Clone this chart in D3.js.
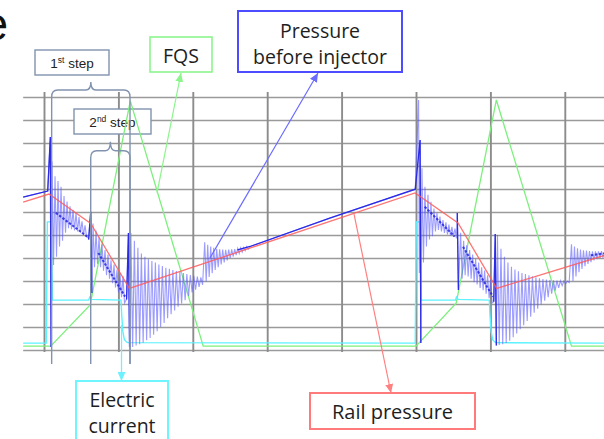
<!DOCTYPE html>
<html><head><meta charset="utf-8">
<script src="https://cdn.jsdelivr.net/npm/d3@7"></script>
<style>body{margin:0;background:#fff}svg{display:block}</style>
</head><body>
<svg id="c" width="604" height="439"></svg>
<script>
// ---- data: time in ms (1 grid division = 1 ms), level in grid divisions ----
const timeTicks = [0, 1, 2, 3, 4, 5, 6, 7];
const levelTicks = [0, 1, 2, 3, 4, 5, 6, 7, 8, 9, 10, 11];
const timeRange = [-0.28, 7.53];

const fqs = [[-0.28,0.17],[0.09,0.17],[0.62,1.96],[1.16,10.83],[2.14,0.17],[5.0,0.17],[5.54,2.04],[6.08,10.87],[7.09,0.17],[7.53,0.17]];

const current = [[-0.28,0.30],[0.03,0.30],[0.045,5.57],[0.095,5.57],[0.115,2.17],[0.60,2.17],[0.615,2.30],[0.64,2.20],[1.035,2.17],[1.045,1.5],[1.06,0.8],[1.08,0.45],[1.12,0.32],
  [4.99,0.30],[5.003,5.57],[5.05,5.57],[5.065,2.17],[5.53,2.17],[5.545,2.30],[5.565,2.20],[5.985,2.17],[5.995,1.5],[6.01,0.8],[6.03,0.45],[6.07,0.32],[7.53,0.30]];

const railPressure = [[-0.28,6.43],[0.067,6.78],[0.628,5.50],[1.147,2.68],[4.987,6.83],[5.565,5.52],[6.085,2.68],[7.53,4.11]];

// pressure before injector: quiet stretches / injection spikes ...
const pLead    = [[-0.28,6.65],[0.05,6.91],[0.085,9.26],[0.095,0.13]];
const pSpike2  = [[0.60,4.85],[0.628,6.01],[0.643,2.48]];
const pSpike3  = [[1.11,2.2],[1.135,5.09],[1.15,0.13]];
const pPlateau = [[2.77,4.50],[3.84,5.73],[4.99,6.99]];
const pSpike5  = [[5.035,10.87],[5.045,3.35],[5.055,9.13],[5.065,0.3]];
const pSpike6  = [[5.555,5.96],[5.57,2.61]];
const pSpike7  = [[6.045,2.1],[6.065,5.04],[6.08,0.2]];
const pTail    = [[7.53,4.15]];
// ... and ringing bursts: [crest, trough] of each cycle
const ring1 = [[8.2,3.7],[7.55,4.05],[7.35,4.5],[7.1,4.75],[6.7,5.1],[6.45,5.3],[6.25,5.25],[6.1,5.2],[5.95,5.15],[5.78,5.1],[5.6,5.0],[5.42,4.95]];
const ring2 = [[5.5,3.6],[5.2,3.75],[4.9,3.6],[4.6,3.45],[4.35,3.25],[4.15,3.1],[3.9,2.9],[3.72,2.72],[3.5,2.5],[3.35,2.3],[3.2,2.05]];
const ring3 = [[5.09,0.13],[4.75,0.2],[4.45,0.25],[4.2,0.32],[4.05,0.42],[3.95,0.52],[3.87,0.66],[3.8,0.82],[3.72,1.0],[3.65,1.18],[3.58,1.38],[3.53,1.55],[3.48,1.72],[3.43,1.88],[3.39,2.02],[3.35,2.17],[3.3,2.35],[3.26,2.5],[3.22,2.62],[3.19,2.74],[3.16,2.83]];
const ring4 = [[4.68,2.98],[4.57,3.17],[4.5,3.34],[4.44,3.48],[4.4,3.6],[4.38,3.72],[4.37,3.81],[4.36,3.9],[4.37,3.99],[4.38,4.06],[4.39,4.13],[4.42,4.2],[4.44,4.26],[4.46,4.32],[4.5,4.38]];
const ring5 = [[7.9,3.8],[7.1,4.5],[6.75,4.8],[6.45,4.95],[6.15,5.15],[5.95,5.22],[5.8,5.15],[5.65,5.09],[5.55,5.03],[5.45,4.98],[5.36,4.93],[5.28,4.85]];
const ring6 = [[5.1,3.1],[4.75,3.25],[4.55,3.2],[4.35,3.1],[4.15,2.95],[3.95,2.85],[3.8,2.7],[3.6,2.6],[3.45,2.45],[3.25,2.25],[3.05,2.05]];
const ring7 = [[5.0,0.22],[4.4,0.25],[4.05,0.3],[3.8,0.4],[3.62,0.55],[3.5,0.72],[3.42,0.9],[3.35,1.08],[3.3,1.26],[3.25,1.45],[3.2,1.62],[3.16,1.8],[3.12,1.98],[3.09,2.14],[3.06,2.3],[3.04,2.45],[3.03,2.58],[3.02,2.7],[3.01,2.8],[3.0,2.88],[3.0,2.93]];
const ring8 = [[4.6,3.0],[4.5,3.2],[4.42,3.38],[4.37,3.52],[4.34,3.64],[4.32,3.74],[4.3,3.82],[4.29,3.89],[4.29,3.95],[4.29,4.0],[4.3,4.04]];
const ringStart = [0.108, 0.659, 1.168, 2.16, 5.08, 5.60, 6.095, 7.09];
const ringPeriod = [0.0403, 0.0403, 0.047, 0.0403, 0.0403, 0.0403, 0.047, 0.0403];
// dense (dark) centre of the trace: solid stretches and ringing centres
const pSolid = [
  [[-0.28,6.65],[0.05,6.91],[0.085,9.26],[0.095,0.13]],
  [[0.60,4.8],[0.628,6.01],[0.643,2.48]],
  [[1.11,2.2],[1.135,5.09],[1.15,0.13]],
  [[2.6,4.35],[2.77,4.50],[3.84,5.73],[4.99,6.99],[5.055,9.13],[5.065,0.3]],
  [[5.555,5.96],[5.57,2.61]],
  [[6.045,2.1],[6.065,5.04],[6.08,0.2]]
];
const pCentre = [
  [[0.16,5.96],[0.58,4.93]],
  [[0.73,4.22],[1.09,2.32]],
  [[5.117,6.23],[5.52,4.93]],
  [[5.632,4.49],[6.035,2.32]],
  [[7.35,4.12],[7.53,4.2]]
];
const stepMarks = [0.103, 0.628, 1.156];

// ---- drawing ----
const svg = d3.select('#c');
const X = d3.scaleLinear().domain([0, 7]).range([44, 564.8]);
const Y = d3.scaleLinear().domain([0, 11]).range([350, 97]);
const line = d3.line().x(d => X(d[0])).y(d => Y(d[1]));

function ringPts(peaks, t0, per) {
  const out = [];
  peaks.forEach((p, k) => { out.push([t0 + k*per, p[0]]); out.push([t0 + (k+0.5)*per, p[1]]); });
  return out;
}
const rings = [ring1, ring2, ring3, ring4, ring5, ring6, ring7, ring8].map((r, i) => ringPts(r, ringStart[i], ringPeriod[i]));
const pressure = [].concat(pLead, rings[0], pSpike2, rings[1], pSpike3, rings[2], rings[3], pPlateau,
  pSpike5, rings[4], pSpike6, rings[5], pSpike7, rings[6], rings[7], pTail);

svg.append('text').attr('x', 8).attr('y', 40).attr('text-anchor', 'end')
  .attr('font-family', 'Liberation Sans, Arial, sans-serif').attr('font-size', 46).attr('fill', '#111').text('e');

// grid through axes
const gH = svg.append('g').attr('transform', `translate(${X(timeRange[0])},0)`)
  .call(d3.axisLeft(Y).tickValues(levelTicks).tickSize(-(X(timeRange[1]) - X(timeRange[0]))).tickFormat(''));
const gV = svg.append('g').attr('transform', `translate(0,${Y(11) - 5})`)
  .call(d3.axisTop(X).tickValues(timeTicks).tickSize(-(Y(0) - Y(11) + 7)).tickFormat(''));
[gH, gV].forEach(g => g.select('.domain').remove());
gH.selectAll('line').attr('stroke', '#9a9a9a').attr('stroke-width', 1.6);
gV.selectAll('line').attr('stroke', '#8c8c8c').attr('stroke-width', 1.9);

const SANS = 'Liberation Sans, Arial, sans-serif';
const OPEN = 'Open Sans, Noto Sans, sans-serif';
const slate = '#8193ae';

// step boxes (white, above grid)
function stepBox(x, y, w, h, num, sup) {
  svg.append('rect').attr('x', x).attr('y', y).attr('width', w).attr('height', h)
    .attr('fill', '#fff').attr('stroke', slate).attr('stroke-width', 1.4);
  const t = svg.append('text').attr('x', x + w/2).attr('y', y + h/2 + 5).attr('text-anchor', 'middle')
    .attr('font-family', SANS).attr('font-size', 13.5).attr('fill', '#222');
  t.append('tspan').text(num);
  t.append('tspan').attr('font-size', 8.5).attr('dy', -5).text(sup);
  t.append('tspan').attr('dy', 5).text(' step');
}
stepBox(35, 50, 74, 25, '1', 'st');
stepBox(74, 109, 77, 25, '2', 'nd');

// curves
svg.append('path').attr('d', line(fqs)).attr('fill', 'none').attr('stroke', '#7cf07c').attr('stroke-width', 1.3);
svg.append('path').attr('d', line(current)).attr('fill', 'none').attr('stroke', '#5cf2ff').attr('stroke-width', 1.4);
svg.append('path').attr('d', line(pressure)).attr('fill', 'none').attr('stroke', '#5a5aff').attr('stroke-opacity', 0.6).attr('stroke-width', 1.1);
pSolid.forEach(seg => svg.append('path').attr('d', line(seg)).attr('fill', 'none').attr('stroke', '#2a2ae8').attr('stroke-width', 1.3));
pCentre.forEach(seg => svg.append('path').attr('d', line(seg)).attr('fill', 'none').attr('stroke', '#2424e0')
  .attr('stroke-width', 2).attr('stroke-dasharray', '2.5,1.6').attr('stroke-opacity', 0.85));
svg.append('path').attr('d', line(railPressure)).attr('fill', 'none').attr('stroke', '#ff5c5c').attr('stroke-opacity', 0.85).attr('stroke-width', 1.3);

// braces with step markers
function brace(xl, xr, yb, yTop, bottom) {
  const xm = (xl + xr) / 2;
  return `M${xl},${bottom} L${xl},${yb + 7} Q${xl},${yb} ${xl + 6},${yb} L${xm - 5},${yb} Q${xm},${yb} ${xm},${yTop}` +
         ` Q${xm},${yb} ${xm + 5},${yb} L${xr - 6},${yb} Q${xr},${yb} ${xr},${yb + 7} L${xr},${bottom}`;
}
svg.append('path').attr('d', brace(X(stepMarks[0]), X(stepMarks[2]), 90, 82, 364)).attr('fill', 'none').attr('stroke', slate).attr('stroke-width', 1.4);
svg.append('path').attr('d', brace(X(stepMarks[1]), X(stepMarks[2]), 150.7, 141.7, 364)).attr('fill', 'none').attr('stroke', slate).attr('stroke-width', 1.4);

// annotations
const defs = svg.append('defs');
function arrow(id, col) {
  defs.append('marker').attr('id', id).attr('markerUnits', 'userSpaceOnUse').attr('markerWidth', 9).attr('markerHeight', 8)
    .attr('refX', 9).attr('refY', 4).attr('orient', 'auto')
    .append('path').attr('d', 'M0,0 L9,4 L0,8 Z').attr('fill', col);
}
const notes = [
  {id: 'aF', col: '#8cf58c', tail: [1.519, 6.83], head: [181, 73]},
  {id: 'aP', col: '#6b6bff', tail: [2.231, 4.0], head: [318, 73]},
  {id: 'aR', col: '#ff8080', tail: [4.167, 5.91], head: [391, 393]},
  {id: 'aC', col: '#6ff0ff', tail: [1.042, 1.09], head: [121.5, 381]}
];
notes.forEach(n => {
  arrow(n.id, n.col);
  svg.append('line').attr('x1', X(n.tail[0])).attr('y1', Y(n.tail[1])).attr('x2', n.head[0]).attr('y2', n.head[1])
    .attr('stroke', n.col).attr('stroke-width', 1.2).attr('marker-end', `url(#${n.id})`);
});

function labelBox(x, y, w, h, col, sw, lines, size, base, gap) {
  svg.append('rect').attr('x', x).attr('y', y).attr('width', w).attr('height', h)
    .attr('fill', '#fff').attr('stroke', col).attr('stroke-width', sw);
  lines.forEach((s, i) => svg.append('text').attr('x', x + w/2).attr('y', base + i*gap).attr('text-anchor', 'middle')
    .attr('font-family', OPEN).attr('font-size', size).attr('fill', '#1e1e1e').text(s));
}
labelBox(150, 37, 62, 35, '#8cf58c', 1.6, ['FQS'], 19.5, 63, 0);
labelBox(238, 11, 164, 61, '#4d4dff', 2, ['Pressure', 'before injector'], 19.5, 37.5, 26);
labelBox(76, 381, 92, 62, '#6ff5ff', 2, ['Electric', 'current'], 19.5, 407, 26);
labelBox(310, 393, 165, 36, '#ff7a7a', 2, ['Rail pressure'], 20, 418.5, 0);
</script>
</body></html>
